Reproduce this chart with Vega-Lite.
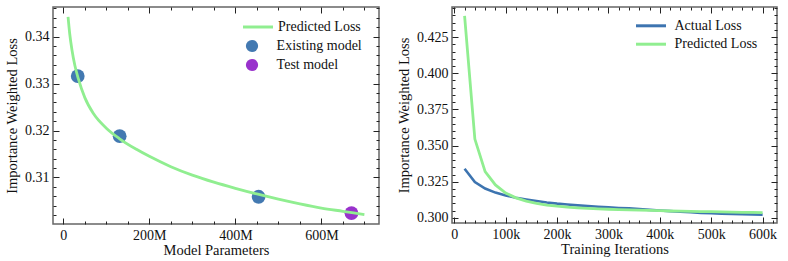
{
  "$schema": "https://vega.github.io/schema/vega-lite/v6.json",
  "padding": {"left": 3, "top": 5, "right": 3, "bottom": 3},
  "background": "white",
  "spacing": 14,
  "resolve": {"scale": {"stroke": "independent", "fill": "independent"}, "legend": {"stroke": "independent", "fill": "independent"}},
  "config": {
    "view": {"stroke": "#666666", "strokeWidth": 1.5},
    "axis": {"grid": false, "domain": false, "tickColor": "#222222", "tickWidth": 1, "labelFont": "Liberation Serif", "labelFontSize": 14, "labelColor": "#111111", "titleFont": "Liberation Serif", "titleFontSize": 14.5, "titleFontWeight": "normal", "titleColor": "#111111", "labelOverlap": false, "labelFlush": false, "minExtent": 0},
    "legend": {"labelFont": "Liberation Serif", "labelFontSize": 14, "labelColor": "#111111", "padding": 0}
  },
  "hconcat": [
    {
      "width": 326,
      "height": 217,
      "layer": [
        {
          "data": {"values": [
            {"params": 33500000, "loss": 0.3316, "type": "Existing model"},
            {"params": 131000000, "loss": 0.3188, "type": "Existing model"},
            {"params": 454000000, "loss": 0.3059, "type": "Existing model"},
            {"params": 670000000, "loss": 0.3024, "type": "Test model"}
          ]},
          "mark": {"type": "point", "filled": true, "size": 190, "opacity": 1},
          "encoding": {
            "x": {"field": "params", "type": "quantitative", "scale": {"domain": [-24000000, 734000000], "nice": false, "zero": false},
              "axis": {"orient": "top", "title": null, "labels": false, "minExtent": 0, "maxExtent": 0, "values": [0,50000000,100000000,150000000,200000000,250000000,300000000,350000000,400000000,450000000,500000000,550000000,600000000,650000000,700000000],
                "tickSize": {"condition": {"test": "datum.value % 200000000 === 0", "value": -6}, "value": -3}}},
            "y": {"field": "loss", "type": "quantitative", "scale": {"domain": [0.3001, 0.3463], "nice": false, "zero": false},
              "axis": {"orient": "right", "title": null, "labels": false, "minExtent": 0, "maxExtent": 0, "values": [0.302,0.304,0.306,0.308,0.31,0.312,0.314,0.316,0.318,0.32,0.322,0.324,0.326,0.328,0.33,0.332,0.334,0.336,0.338,0.34,0.342,0.344,0.346],
                "tickSize": {"condition": {"test": "abs(datum.value*100 - round(datum.value*100)) < 0.0001", "value": -6}, "value": -3}}},
            "fill": {"field": "type", "type": "nominal", "scale": {"domain": ["Existing model", "Test model"], "range": ["#4379b1", "#9932cc"]},
              "legend": {"orient": "none", "legendX": 192, "legendY": 32, "title": null, "symbolType": "circle", "symbolSize": 150, "symbolStrokeWidth": 0, "labelOffset": 17.6, "rowPadding": 5}}
          }
        },
        {
          "data": {"values": [
            {"params": 11000000, "loss": 0.3442, "series": "Predicted Loss"},
            {"params": 15000000, "loss": 0.3405, "series": "Predicted Loss"},
            {"params": 20000000, "loss": 0.3372, "series": "Predicted Loss"},
            {"params": 27000000, "loss": 0.3338, "series": "Predicted Loss"},
            {"params": 35000000, "loss": 0.3310, "series": "Predicted Loss"},
            {"params": 50000000, "loss": 0.3270, "series": "Predicted Loss"},
            {"params": 70000000, "loss": 0.3236, "series": "Predicted Loss"},
            {"params": 100000000, "loss": 0.3205, "series": "Predicted Loss"},
            {"params": 130000000, "loss": 0.3183, "series": "Predicted Loss"},
            {"params": 170000000, "loss": 0.3160, "series": "Predicted Loss"},
            {"params": 200000000, "loss": 0.3145, "series": "Predicted Loss"},
            {"params": 250000000, "loss": 0.3123, "series": "Predicted Loss"},
            {"params": 300000000, "loss": 0.3105, "series": "Predicted Loss"},
            {"params": 350000000, "loss": 0.3090, "series": "Predicted Loss"},
            {"params": 400000000, "loss": 0.3077, "series": "Predicted Loss"},
            {"params": 450000000, "loss": 0.3065, "series": "Predicted Loss"},
            {"params": 500000000, "loss": 0.3054, "series": "Predicted Loss"},
            {"params": 550000000, "loss": 0.3044, "series": "Predicted Loss"},
            {"params": 600000000, "loss": 0.3035, "series": "Predicted Loss"},
            {"params": 650000000, "loss": 0.3028, "series": "Predicted Loss"},
            {"params": 700000000, "loss": 0.3021, "series": "Predicted Loss"}
          ]},
          "mark": {"type": "line", "strokeWidth": 2.8, "interpolate": "monotone"},
          "encoding": {
            "x": {"field": "params", "type": "quantitative", "scale": {"domain": [-24000000, 734000000], "nice": false, "zero": false},
              "axis": {"orient": "bottom", "title": "Model Parameters", "titlePadding": 1, "labelPadding": 10, "values": [0,50000000,100000000,150000000,200000000,250000000,300000000,350000000,400000000,450000000,500000000,550000000,600000000,650000000,700000000],
                "labelExpr": "datum.value % 200000000 === 0 ? (datum.value === 0 ? '0' : (datum.value/1000000) + 'M') : ''",
                "labelFontSize": {"condition": {"test": "datum.value % 200000000 === 0", "value": 14}, "value": 0},
                "tickSize": {"condition": {"test": "datum.value % 200000000 === 0", "value": -6}, "value": -3}}},
            "y": {"field": "loss", "type": "quantitative", "scale": {"domain": [0.3001, 0.3463], "nice": false, "zero": false},
              "axis": {"orient": "left", "title": "Importance Weighted Loss", "titlePadding": 5, "labelPadding": 10, "values": [0.302,0.304,0.306,0.308,0.31,0.312,0.314,0.316,0.318,0.32,0.322,0.324,0.326,0.328,0.33,0.332,0.334,0.336,0.338,0.34,0.342,0.344,0.346],
                "labelExpr": "abs(datum.value*100 - round(datum.value*100)) < 0.0001 ? format(datum.value, '.2f') : ''",
                "labelFontSize": {"condition": {"test": "abs(datum.value*100 - round(datum.value*100)) < 0.0001", "value": 14}, "value": 0},
                "tickSize": {"condition": {"test": "abs(datum.value*100 - round(datum.value*100)) < 0.0001", "value": -6}, "value": -3}}},
            "stroke": {"field": "series", "type": "nominal", "scale": {"domain": ["Predicted Loss"], "range": ["#90ee90"]},
              "legend": {"orient": "none", "legendX": 196, "legendY": 11, "title": null, "symbolType": "M-2,0H2", "symbolSize": 225, "symbolStrokeWidth": 3, "labelOffset": 11}}
          }
        }
      ]
    },
    {
      "width": 325,
      "height": 216,
      "layer": [
        {
          "data": {"values": [
            {"iter": 20000, "loss": 0.3340, "series": "Actual Loss"},
            {"iter": 40000, "loss": 0.3248, "series": "Actual Loss"},
            {"iter": 60000, "loss": 0.3203, "series": "Actual Loss"},
            {"iter": 80000, "loss": 0.3175, "series": "Actual Loss"},
            {"iter": 100000, "loss": 0.3155, "series": "Actual Loss"},
            {"iter": 120000, "loss": 0.3140, "series": "Actual Loss"},
            {"iter": 140000, "loss": 0.3128, "series": "Actual Loss"},
            {"iter": 160000, "loss": 0.3117, "series": "Actual Loss"},
            {"iter": 180000, "loss": 0.3107, "series": "Actual Loss"},
            {"iter": 200000, "loss": 0.3099, "series": "Actual Loss"},
            {"iter": 220000, "loss": 0.3093, "series": "Actual Loss"},
            {"iter": 240000, "loss": 0.3087, "series": "Actual Loss"},
            {"iter": 260000, "loss": 0.3082, "series": "Actual Loss"},
            {"iter": 280000, "loss": 0.3077, "series": "Actual Loss"},
            {"iter": 300000, "loss": 0.3073, "series": "Actual Loss"},
            {"iter": 320000, "loss": 0.3069, "series": "Actual Loss"},
            {"iter": 340000, "loss": 0.3066, "series": "Actual Loss"},
            {"iter": 360000, "loss": 0.3061, "series": "Actual Loss"},
            {"iter": 380000, "loss": 0.3056, "series": "Actual Loss"},
            {"iter": 400000, "loss": 0.3051, "series": "Actual Loss"},
            {"iter": 420000, "loss": 0.3047, "series": "Actual Loss"},
            {"iter": 440000, "loss": 0.3043, "series": "Actual Loss"},
            {"iter": 460000, "loss": 0.3039, "series": "Actual Loss"},
            {"iter": 480000, "loss": 0.3035, "series": "Actual Loss"},
            {"iter": 500000, "loss": 0.3032, "series": "Actual Loss"},
            {"iter": 520000, "loss": 0.3029, "series": "Actual Loss"},
            {"iter": 540000, "loss": 0.3027, "series": "Actual Loss"},
            {"iter": 560000, "loss": 0.3025, "series": "Actual Loss"},
            {"iter": 580000, "loss": 0.3024, "series": "Actual Loss"},
            {"iter": 600000, "loss": 0.3023, "series": "Actual Loss"}
          ]},
          "mark": {"type": "line", "strokeWidth": 2.6},
          "encoding": {
            "x": {"field": "iter", "type": "quantitative", "scale": {"domain": [-4500, 628000], "nice": false, "zero": false},
              "axis": {"orient": "bottom", "title": "Training Iterations", "titlePadding": 1, "labelPadding": 10, "values": [0,20000,40000,60000,80000,100000,120000,140000,160000,180000,200000,220000,240000,260000,280000,300000,320000,340000,360000,380000,400000,420000,440000,460000,480000,500000,520000,540000,560000,580000,600000,620000],
                "labelExpr": "datum.value % 100000 === 0 ? (datum.value === 0 ? '0' : (datum.value/1000) + 'k') : ''",
                "labelFontSize": {"condition": {"test": "datum.value % 100000 === 0", "value": 14}, "value": 0},
                "tickSize": {"condition": {"test": "datum.value % 100000 === 0", "value": -6}, "value": -3}}},
            "y": {"field": "loss", "type": "quantitative", "scale": {"domain": [0.2965, 0.4458], "nice": false, "zero": false},
              "axis": {"orient": "left", "title": "Importance Weighted Loss", "titlePadding": 5, "labelPadding": 10, "values": [0.3,0.305,0.31,0.315,0.32,0.325,0.33,0.335,0.34,0.345,0.35,0.355,0.36,0.365,0.37,0.375,0.38,0.385,0.39,0.395,0.4,0.405,0.41,0.415,0.42,0.425,0.43,0.435,0.44,0.445],
                "labelExpr": "abs(datum.value*40 - round(datum.value*40)) < 0.0001 ? format(datum.value, '.3f') : ''",
                "labelFontSize": {"condition": {"test": "abs(datum.value*40 - round(datum.value*40)) < 0.0001", "value": 14}, "value": 0},
                "tickSize": {"condition": {"test": "abs(datum.value*40 - round(datum.value*40)) < 0.0001", "value": -6}, "value": -3}}},
            "stroke": {"field": "series", "type": "nominal", "scale": {"domain": ["Actual Loss", "Predicted Loss"], "range": ["#3d74b0", "#90ee90"]},
              "legend": {"orient": "none", "legendX": 190, "legendY": 9.8, "title": null, "symbolType": "M-2,0H2", "symbolSize": 225, "symbolStrokeWidth": 3, "labelOffset": 14.5, "rowPadding": 2.4}}
          }
        },
        {
          "data": {"values": [
            {"iter": 20000, "loss": 0.4396, "series": "Predicted Loss"},
            {"iter": 40000, "loss": 0.3545, "series": "Predicted Loss"},
            {"iter": 60000, "loss": 0.3320, "series": "Predicted Loss"},
            {"iter": 80000, "loss": 0.3228, "series": "Predicted Loss"},
            {"iter": 100000, "loss": 0.3172, "series": "Predicted Loss"},
            {"iter": 120000, "loss": 0.3139, "series": "Predicted Loss"},
            {"iter": 140000, "loss": 0.3116, "series": "Predicted Loss"},
            {"iter": 160000, "loss": 0.3100, "series": "Predicted Loss"},
            {"iter": 180000, "loss": 0.3089, "series": "Predicted Loss"},
            {"iter": 200000, "loss": 0.3081, "series": "Predicted Loss"},
            {"iter": 220000, "loss": 0.3075, "series": "Predicted Loss"},
            {"iter": 240000, "loss": 0.3070, "series": "Predicted Loss"},
            {"iter": 260000, "loss": 0.3066, "series": "Predicted Loss"},
            {"iter": 280000, "loss": 0.3063, "series": "Predicted Loss"},
            {"iter": 300000, "loss": 0.3060, "series": "Predicted Loss"},
            {"iter": 320000, "loss": 0.3058, "series": "Predicted Loss"},
            {"iter": 340000, "loss": 0.3056, "series": "Predicted Loss"},
            {"iter": 360000, "loss": 0.3054, "series": "Predicted Loss"},
            {"iter": 380000, "loss": 0.3052, "series": "Predicted Loss"},
            {"iter": 400000, "loss": 0.3050, "series": "Predicted Loss"},
            {"iter": 420000, "loss": 0.3048, "series": "Predicted Loss"},
            {"iter": 440000, "loss": 0.3047, "series": "Predicted Loss"},
            {"iter": 460000, "loss": 0.3045, "series": "Predicted Loss"},
            {"iter": 480000, "loss": 0.3044, "series": "Predicted Loss"},
            {"iter": 500000, "loss": 0.3043, "series": "Predicted Loss"},
            {"iter": 520000, "loss": 0.3042, "series": "Predicted Loss"},
            {"iter": 540000, "loss": 0.3040, "series": "Predicted Loss"},
            {"iter": 560000, "loss": 0.3039, "series": "Predicted Loss"},
            {"iter": 580000, "loss": 0.3038, "series": "Predicted Loss"},
            {"iter": 600000, "loss": 0.3037, "series": "Predicted Loss"}
          ]},
          "mark": {"type": "line", "strokeWidth": 2.8},
          "encoding": {
            "x": {"field": "iter", "type": "quantitative", "scale": {"domain": [-4500, 628000], "nice": false, "zero": false},
              "axis": {"orient": "top", "title": null, "labels": false, "minExtent": 0, "maxExtent": 0, "values": [0,20000,40000,60000,80000,100000,120000,140000,160000,180000,200000,220000,240000,260000,280000,300000,320000,340000,360000,380000,400000,420000,440000,460000,480000,500000,520000,540000,560000,580000,600000,620000],
                "tickSize": {"condition": {"test": "datum.value % 100000 === 0", "value": -6}, "value": -3}}},
            "y": {"field": "loss", "type": "quantitative", "scale": {"domain": [0.2965, 0.4458], "nice": false, "zero": false},
              "axis": {"orient": "right", "title": null, "labels": false, "minExtent": 0, "maxExtent": 0, "values": [0.3,0.305,0.31,0.315,0.32,0.325,0.33,0.335,0.34,0.345,0.35,0.355,0.36,0.365,0.37,0.375,0.38,0.385,0.39,0.395,0.4,0.405,0.41,0.415,0.42,0.425,0.43,0.435,0.44,0.445],
                "tickSize": {"condition": {"test": "abs(datum.value*40 - round(datum.value*40)) < 0.0001", "value": -6}, "value": -3}}},
            "stroke": {"field": "series", "type": "nominal", "scale": {"domain": ["Actual Loss", "Predicted Loss"], "range": ["#3d74b0", "#90ee90"]},
              "legend": {"orient": "none", "legendX": 190, "legendY": 9.8, "title": null, "symbolType": "M-2,0H2", "symbolSize": 225, "symbolStrokeWidth": 3, "labelOffset": 14.5, "rowPadding": 2.4}}
          }
        }
      ]
    }
  ]
}
